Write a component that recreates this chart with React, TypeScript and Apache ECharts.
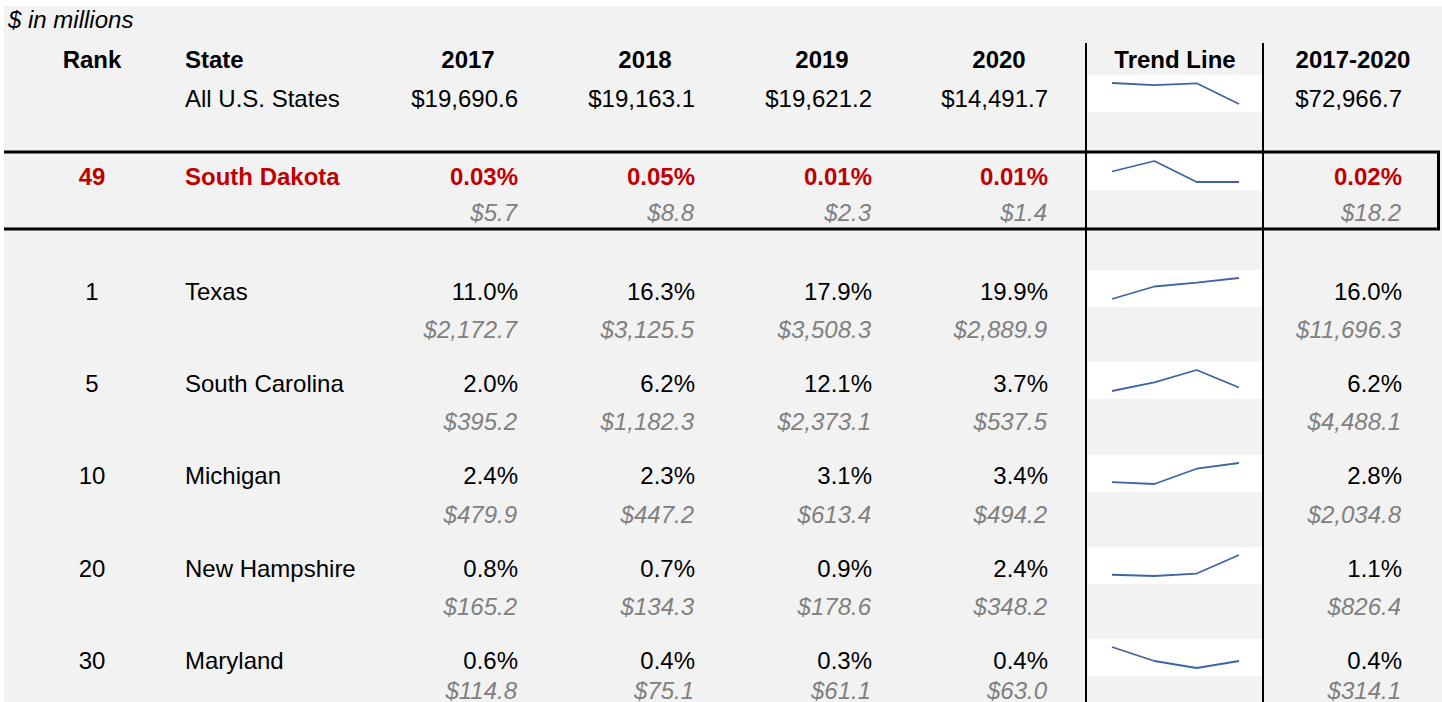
import React, { useEffect, useRef } from "react";
import * as echarts from "echarts";

// ---------- data ----------
const years = ["2017", "2018", "2019", "2020"];
const allUSLabel = "All U.S. States";
const allUSDollars = [19690.6, 19163.1, 19621.2, 14491.7];
const allUSTotal = 72966.7;

const focusRank = 49;
const focusState = "South Dakota";
const focusPct = [0.03, 0.05, 0.01, 0.01];
const focusDollars = [5.7, 8.8, 2.3, 1.4];
const focusTotalPct = 0.02;
const focusTotalDollars = 18.2;

const ranks = [1, 5, 10, 20, 30];
const states = ["Texas", "South Carolina", "Michigan", "New Hampshire", "Maryland"];
const texasPct = [11.0, 16.3, 17.9, 19.9];
const southCarolinaPct = [2.0, 6.2, 12.1, 3.7];
const michiganPct = [2.4, 2.3, 3.1, 3.4];
const newHampshirePct = [0.8, 0.7, 0.9, 2.4];
const marylandPct = [0.6, 0.4, 0.3, 0.4];
const texasDollars = [2172.7, 3125.5, 3508.3, 2889.9];
const southCarolinaDollars = [395.2, 1182.3, 2373.1, 537.5];
const michiganDollars = [479.9, 447.2, 613.4, 494.2];
const newHampshireDollars = [165.2, 134.3, 178.6, 348.2];
const marylandDollars = [114.8, 75.1, 61.1, 63.0];
const totalPct = [16.0, 6.2, 2.8, 1.1, 0.4];
const totalDollars = [11696.3, 4488.1, 2034.8, 826.4, 314.1];

const statePct = [texasPct, southCarolinaPct, michiganPct, newHampshirePct, marylandPct];
const stateDollars = [texasDollars, southCarolinaDollars, michiganDollars, newHampshireDollars, marylandDollars];

// ---------- layout ----------
const W = 1442;
const H = 702;
const FONT = '"Liberation Sans", Arial, sans-serif';
const RED = "#c00000";
const GRAY = "#808080";
const SPARK = "#3d65a0";
const yearCenters = [468, 645, 822, 999];
const yearRights = [518, 695, 872, 1048];
const totalRight = 1402;
const rankX = 92;
const stateX = 185;
const trendX = 1175;
const totalHeaderX = 1353;
const vLines = [1086, 1263];
const boxLeft = 1088;
const boxRight = 1262;
const boxH = 37;
const sparkLeft = 1112;
const sparkWidth = 127;
const rowPctY = [291, 383, 475, 568, 660];
const rowDolY = [329, 421, 514, 606, 690];
const rowBoxTop = [270, 362, 455, 547, 639];

const fmtMoney = (v: number) =>
  "$" + v.toLocaleString("en-US", { minimumFractionDigits: 1, maximumFractionDigits: 1 });
const fmtPct = (v: number, d: number) => v.toFixed(d) + "%";

function txt(text: string, x: number, y: number, o: any = {}) {
  const align = o.align || "left";
  const weight = o.bold ? "bold " : "";
  const style = o.italic ? "italic " : "";
  const size = o.size || 24;
  return {
    type: "text",
    silent: true,
    z: 10,
    style: {
      text,
      x,
      y,
      font: `${style}${weight}${size}px ${FONT}`,
      fill: o.color || "#000",
      align,
      verticalAlign: "middle",
      textAlign: align,
      textVerticalAlign: "middle",
    },
  };
}

export default function App() {
  const ref = useRef<HTMLDivElement>(null);

  useEffect(() => {
    if (!ref.current) return;
    const chart = echarts.init(ref.current, undefined, { renderer: "svg" });

    const elements: any[] = [];
    // background
    elements.push({ type: "rect", silent: true, z: 0, shape: { x: 4, y: 6, width: W - 4, height: H - 6 }, style: { fill: "#f2f2f2" } });
    // white sparkline boxes
    const boxTops = [75, 153, ...rowBoxTop];
    boxTops.forEach((t) =>
      elements.push({ type: "rect", silent: true, z: 1, shape: { x: boxLeft, y: t, width: boxRight - boxLeft, height: boxH }, style: { fill: "#ffffff" } })
    );
    // vertical lines
    vLines.forEach((x) =>
      elements.push({ type: "line", silent: true, z: 5, shape: { x1: x, y1: 43, x2: x, y2: H }, style: { stroke: "#000", lineWidth: 2 } })
    );
    // focus box
    elements.push({ type: "line", silent: true, z: 6, shape: { x1: 4, y1: 152, x2: 1440, y2: 152 }, style: { stroke: "#000", lineWidth: 3 } });
    elements.push({ type: "line", silent: true, z: 6, shape: { x1: 4, y1: 229, x2: 1440, y2: 229 }, style: { stroke: "#000", lineWidth: 3 } });
    elements.push({ type: "line", silent: true, z: 6, shape: { x1: 1438.5, y1: 152, x2: 1438.5, y2: 229 }, style: { stroke: "#000", lineWidth: 3 } });

    // texts
    elements.push(txt("$ in millions", 8, 19, { italic: true, size: 24 }));
    elements.push(txt("Rank", rankX, 59, { bold: true, align: "center" }));
    elements.push(txt("State", stateX, 59, { bold: true }));
    years.forEach((y, i) => elements.push(txt(y, yearCenters[i], 59, { bold: true, align: "center" })));
    elements.push(txt("Trend Line", trendX, 59, { bold: true, align: "center" }));
    elements.push(txt(years[0] + "-" + years[3], totalHeaderX, 59, { bold: true, align: "center" }));

    elements.push(txt(allUSLabel, stateX, 98));
    allUSDollars.forEach((v, i) => elements.push(txt(fmtMoney(v), yearRights[i], 98, { align: "right" })));
    elements.push(txt(fmtMoney(allUSTotal), totalRight, 98, { align: "right" }));

    elements.push(txt(String(focusRank), rankX, 176, { bold: true, color: RED, align: "center" }));
    elements.push(txt(focusState, stateX, 176, { bold: true, color: RED }));
    focusPct.forEach((v, i) => elements.push(txt(fmtPct(v, 2), yearRights[i], 176, { bold: true, color: RED, align: "right" })));
    elements.push(txt(fmtPct(focusTotalPct, 2), totalRight, 176, { bold: true, color: RED, align: "right" }));
    focusDollars.forEach((v, i) => elements.push(txt(fmtMoney(v), yearRights[i] - 1, 212, { italic: true, color: GRAY, align: "right" })));
    elements.push(txt(fmtMoney(focusTotalDollars), totalRight - 1, 212, { italic: true, color: GRAY, align: "right" }));

    states.forEach((s, r) => {
      elements.push(txt(String(ranks[r]), rankX, rowPctY[r], { align: "center" }));
      elements.push(txt(s, stateX, rowPctY[r]));
      statePct[r].forEach((v, i) => elements.push(txt(fmtPct(v, 1), yearRights[i], rowPctY[r], { align: "right" })));
      elements.push(txt(fmtPct(totalPct[r], 1), totalRight, rowPctY[r], { align: "right" }));
      stateDollars[r].forEach((v, i) =>
        elements.push(txt(fmtMoney(v), yearRights[i] - 1, rowDolY[r], { italic: true, color: GRAY, align: "right" }))
      );
      elements.push(txt(fmtMoney(totalDollars[r]), totalRight - 1, rowDolY[r], { italic: true, color: GRAY, align: "right" }));
    });

    // sparklines
    const sparkData = [allUSDollars, focusPct, ...statePct];
    const grids: any[] = [];
    const xAxes: any[] = [];
    const yAxes: any[] = [];
    const series: any[] = [];
    sparkData.forEach((d, i) => {
      grids.push({ left: sparkLeft, width: sparkWidth, top: boxTops[i] + 8, height: boxH - 16 });
      xAxes.push({ type: "category", data: years, gridIndex: i, show: false, boundaryGap: false });
      yAxes.push({ type: "value", gridIndex: i, show: false, scale: true, min: "dataMin", max: "dataMax", splitLine: { show: false } });
      series.push({
        type: "line",
        xAxisIndex: i,
        yAxisIndex: i,
        data: d,
        symbol: "none",
        silent: true,
        z: 3,
        lineStyle: { color: SPARK, width: 1.8 },
      });
    });

    chart.setOption({
      animation: false,
      backgroundColor: "#ffffff",
      grid: grids,
      xAxis: xAxes,
      yAxis: yAxes,
      series,
      graphic: { elements },
    });

    return () => chart.dispose();
  }, []);

  return <div ref={ref} style={{ position: "absolute", left: 0, top: 0, width: W, height: H }} />;
}
